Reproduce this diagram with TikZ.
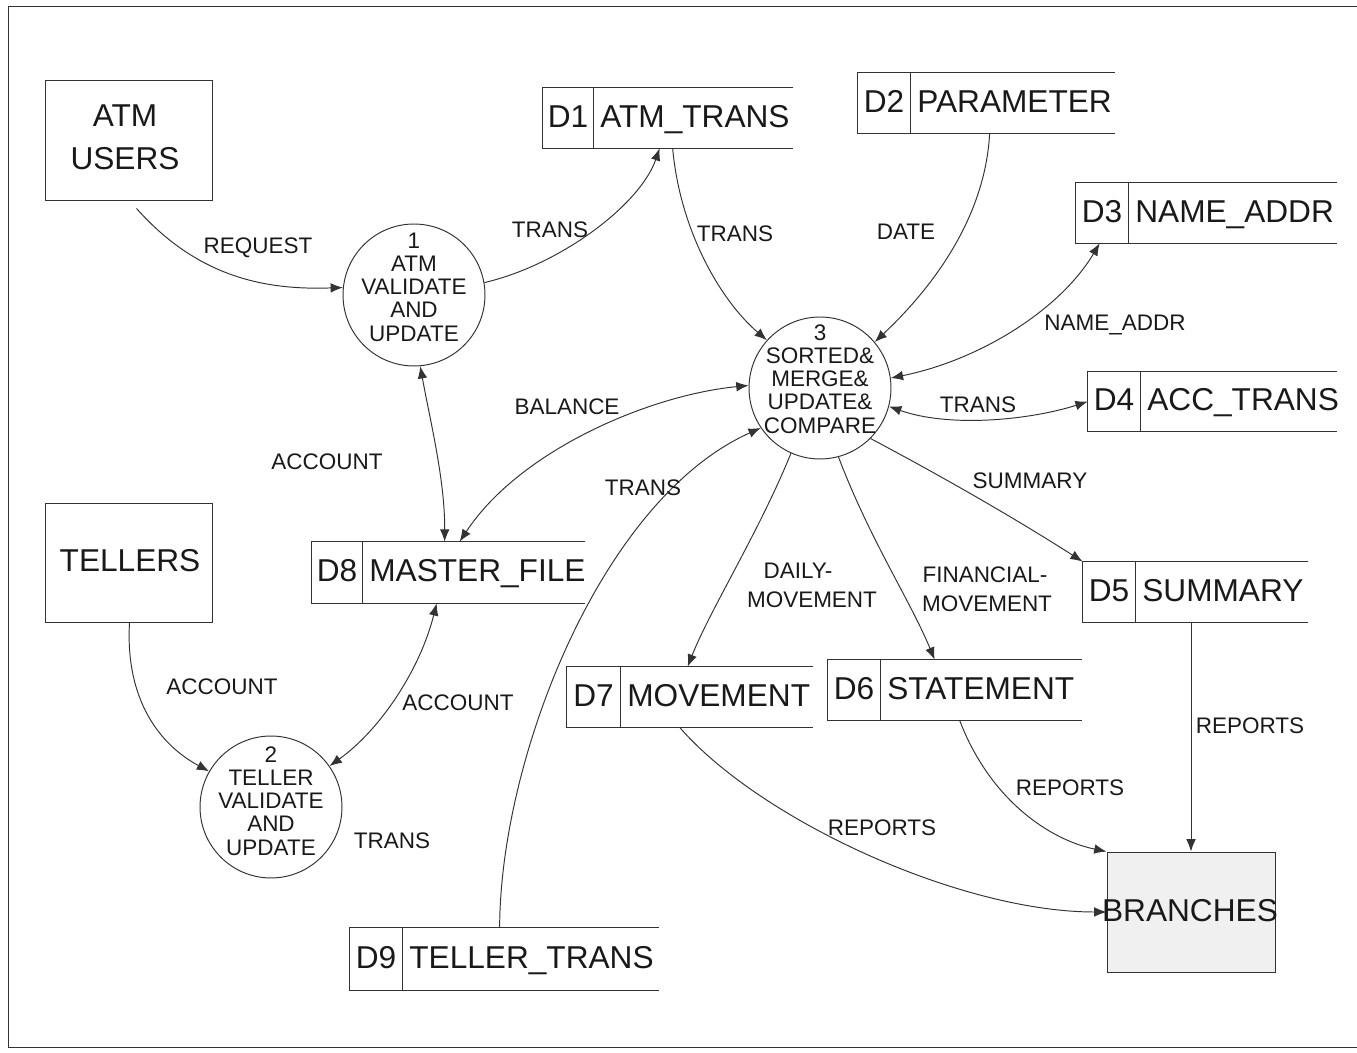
\documentclass[tikz,border=0pt]{standalone}
\usepackage{fontspec}
\setmainfont{Liberation Sans}
\usetikzlibrary{arrows.meta,fit,calc}

% data store: open on the right, id cell on the left
% #1 name, #2 x-left, #3 x-divider, #4 x-right, #5 y-top, #6 y-bottom, #7 id, #8 title
\newcommand{\dstore}[8]{%
  \node[fit={(#2,#5) (#4,#6)}, inner sep=0pt] (#1) {};
  \draw[storeline] (#1.north east) -- (#1.north west) -- (#1.south west) -- (#1.south east);
  \draw[storeline] (#3,#5) -- (#3,#6);
  \node[bigtext] (#1-id) at ({(#2+#3)/2},{(#5+#6)/2}) {#7};
  \node[bigtext, anchor=west] (#1-title) at (#3+7,{(#5+#6)/2}) {#8};
}

\begin{document}
\begin{tikzpicture}[x=0.02cm,y=-0.02cm,
  ink/.style={draw=black!80, line width=0.55pt},
  storeline/.style={ink},
  flow/.style={ink, -{Latex[length=7pt,width=5.5pt]}},
  flowboth/.style={ink, {Latex[length=7pt,width=5.5pt]}-{Latex[length=7pt,width=5.5pt]}},
  bigtext/.style={font=\fontsize{18}{24.4}\selectfont, text=black!90, inner sep=0pt, text height=0.716em, text depth=0pt, yshift=-1.8pt},
  lbl/.style={font=\fontsize{12.8}{13.6}\selectfont, text=black!90, inner sep=0pt, text height=0.716em, text depth=0pt, yshift=-1pt},
  ptext/.style={font=\fontsize{12.8}{13.2}\selectfont, text=black!90, inner sep=0pt, align=center},
  entity/.style={ink, inner sep=0pt},
  proc/.style={ink, circle, inner sep=0pt, minimum size=2.84cm},
]
\useasboundingbox (0,0) rectangle (1357,1053);

% page frame
\draw[ink] (1357,6) -- (8,6) -- (8,1047) -- (1357,1047);

% external entities
\node[entity, draw, fit={(45,80) (212,200)}] (atm) {};
\node[font=\fontsize{18}{24.4}\selectfont, text=black!90, inner sep=0pt, align=center] (atm-t) at (125,137) {ATM\\USERS};
\node[entity, draw, fit={(45,503) (212,622)}] (tel) {};
\node[bigtext] (tel-t) at (130,562) {TELLERS};
\node[entity, draw, fill=black!6, fit={(1107,852) (1275,972)}] (br) {};
\node[bigtext] (br-t) at (1190,912) {BRANCHES};

% processes
\node[proc] (p1) at (414,295) {};
\node[ptext] (p1-t) at (414,287) {1\\ATM\\VALIDATE\\AND\\UPDATE};
\node[proc] (p2) at (271,807) {};
\node[ptext] (p2-t) at (271,801) {2\\TELLER\\VALIDATE\\AND\\UPDATE};
\node[proc] (p3) at (820,388) {};
\node[ptext] (p3-t) at (820,379) {3\\SORTED\&\\MERGE\&\\UPDATE\&\\COMPARE};

% data stores
\dstore{d1}{543}{593}{793}{88}{148}{D1}{ATM\_TRANS}
\dstore{d2}{858}{910}{1115}{73}{133}{D2}{PARAMETER}
\dstore{d3}{1076}{1128}{1337}{183}{243}{D3}{NAME\_ADDR}
\dstore{d4}{1088}{1140}{1337}{372}{431}{D4}{ACC\_TRANS}
\dstore{d5}{1083}{1135}{1308}{562}{622}{D5}{SUMMARY}
\dstore{d6}{828}{880}{1082}{660}{720}{D6}{STATEMENT}
\dstore{d7}{567}{620}{813}{667}{727}{D7}{MOVEMENT}
\dstore{d8}{312}{362}{585}{542}{603}{D8}{MASTER\_FILE}
\dstore{d9}{350}{402}{659}{928}{990}{D9}{TELLER\_TRANS}

% flows
\draw[flow] ($(atm.south west)+(92,8)$) .. controls (200,280) and (270,290) .. (p1.174);
\draw[flow] (p1.10) .. controls (560,265) and (640,205) .. ($(d1.south west)+(117,0)$);
\draw[flow] ($(d1.south west)+(130,0)$) .. controls (680,230) and (720,300) .. (p3.138);
\draw[flow] ($(d2.south west)+(132,0)$) .. controls (985,220) and (930,290) .. (p3.40);
\draw[flowboth] (p3.8) .. controls (980,360) and (1060,310) .. ($(d3.south west)+(24,0)$);
\draw[flowboth] (p3.-15) .. controls (950,428) and (1030,420) .. ($(d4.north west)+(0,30)$);
\draw[flow] (p3.-45) .. controls (930,470) and (1010,515) .. (d5.north west);
\draw[flow] (p3.-75) .. controls (870,540) and (910,600) .. ($(d6.north west)+(107,0)$);
\draw[flow] (p3.-114) .. controls (760,530) and (710,610) .. ($(d7.north west)+(121,0)$);
\draw[flowboth] (p3.178) .. controls (650,395) and (520,450) .. ($(d8.north west)+(148,0)$);
\draw[flowboth] (p1.-85) .. controls (430,420) and (445,480) .. ($(d8.north west)+(133,0)$);
\draw[flowboth] ($(d8.south west)+(125,0)$) .. controls (420,670) and (380,730) .. (p2.35);
\draw[flow] ($(tel.south west)+(85,0)$) .. controls (125,700) and (160,745) .. (p2.150);
\draw[flow] ($(d9.north west)+(150,0)$) .. controls (500,760) and (600,500) .. (p3.214);
\draw[flow] ($(d7.south west)+(113,0)$) .. controls (760,820) and (960,912) .. (br.west);
\draw[flow] ($(d6.south west)+(132,0)$) .. controls (990,800) and (1050,840) .. (br.north west);
\draw[flow] (d5.south -| br.north) -- (br.north);

% flow labels
\node[lbl] (l1) at (258,245) {REQUEST};
\node[lbl] (l2) at (550,229) {TRANS};
\node[lbl] (l3) at (735,233) {TRANS};
\node[lbl] (l4) at (906,231) {DATE};
\node[lbl] (l5) at (1115,322) {NAME\_ADDR};
\node[lbl] (l6) at (978,404) {TRANS};
\node[lbl] (l7) at (567,406) {BALANCE};
\node[lbl] (l8) at (327,461) {ACCOUNT};
\node[lbl] (l9) at (643,487) {TRANS};
\node[lbl] (l10) at (1030,480) {SUMMARY};
\node[lbl] (l11a) at (798,570) {DAILY-};
\node[lbl] (l11b) at (812,599) {MOVEMENT};
\node[lbl] (l12a) at (985,574) {FINANCIAL-};
\node[lbl] (l12b) at (987,603) {MOVEMENT};
\node[lbl] (l13) at (222,686) {ACCOUNT};
\node[lbl] (l14) at (458,702) {ACCOUNT};
\node[lbl] (l15) at (1250,725) {REPORTS};
\node[lbl] (l16) at (1070,787) {REPORTS};
\node[lbl] (l17) at (882,827) {REPORTS};
\node[lbl] (l18) at (392,840) {TRANS};
\end{tikzpicture}
\end{document}
